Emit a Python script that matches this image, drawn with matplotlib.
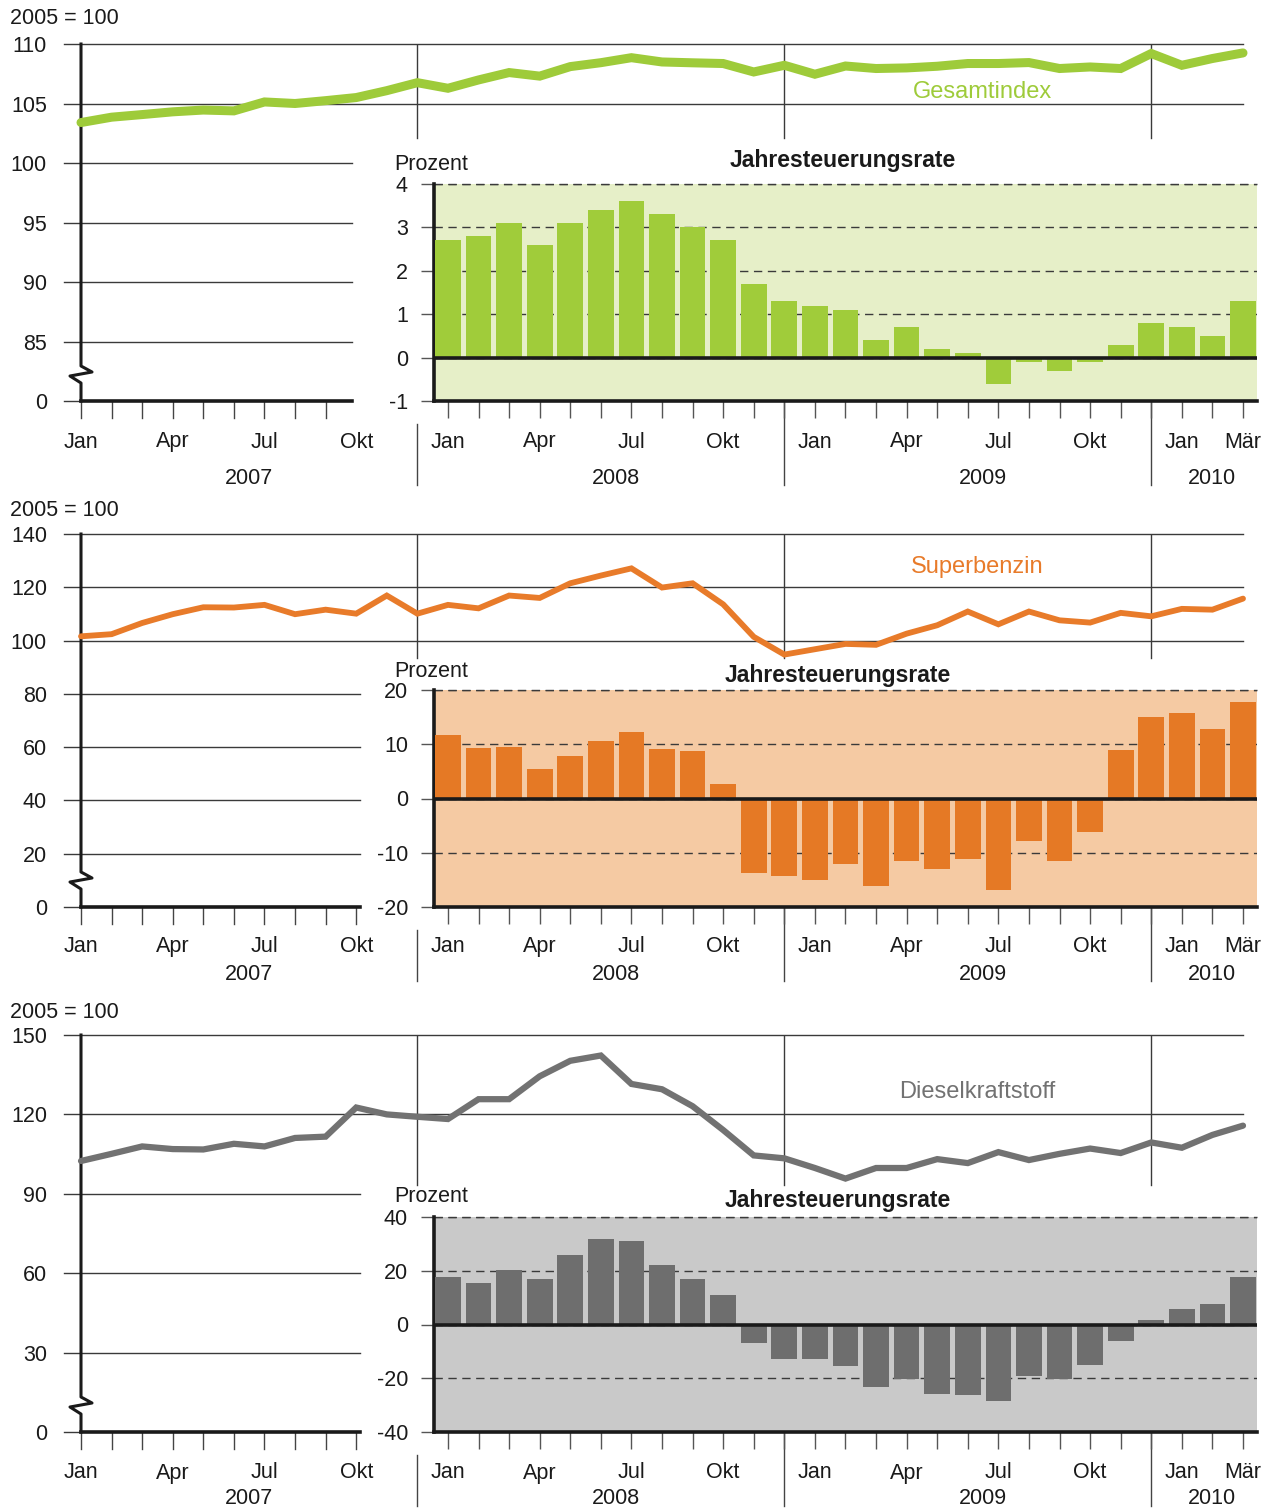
import matplotlib
matplotlib.use('Agg')
import matplotlib.pyplot as plt
import matplotlib.transforms as mtransforms
import numpy as np

plt.rcParams['font.family'] = ['Liberation Sans', 'DejaVu Sans']
plt.rcParams['axes.unicode_minus'] = False

# month index 0 = Jan 2007 ... 38 = Mär 2010
months = np.arange(39)
rate_months = np.arange(12, 39)   # Jan 2008 .. Mär 2010

gesamt_index = [103.4, 103.85, 104.07, 104.3, 104.45, 104.38, 105.13, 105.0, 105.24, 105.5,
                106.08, 106.75, 106.28, 106.98, 107.6, 107.3, 108.1, 108.43, 108.85, 108.49,
                108.42, 108.36, 107.65, 108.21, 107.46, 108.15, 107.94, 107.99, 108.13, 108.36,
                108.36, 108.44, 107.94, 108.07, 107.94, 109.2, 108.21, 108.78, 109.25]
benzin_index = [101.6, 102.4, 106.6, 109.9, 112.5, 112.4, 113.4, 109.9, 111.6, 110.1,
                116.9, 110.1, 113.4, 112.1, 116.9, 116.0, 121.5, 124.4, 127.1, 119.9,
                121.5, 113.6, 101.4, 94.75, 96.75, 98.75, 98.4, 102.6, 105.75, 110.9,
                106.1, 110.9, 107.6, 106.75, 110.4, 109.1, 111.9, 111.6, 115.75]
diesel_index = [102.4, 105.1, 107.9, 106.9, 106.75, 108.9, 107.9, 111.1, 111.6, 122.6,
                120.0, 119.1, 118.25, 125.75, 125.75, 134.4, 140.25, 142.25, 131.5, 129.5,
                123.1, 114.1, 104.5, 103.4, 99.75, 95.75, 99.75, 99.75, 103.1, 101.6,
                105.75, 102.75, 105.1, 107.1, 105.4, 109.4, 107.4, 112.25, 115.75]

gesamt_rate = [2.7, 2.8, 3.1, 2.6, 3.1, 3.4, 3.6, 3.3, 3.0, 2.7, 1.7, 1.3, 1.2, 1.1,
               0.4, 0.7, 0.2, 0.1, -0.6, -0.1, -0.3, -0.1, 0.3, 0.8, 0.7, 0.5, 1.3]
benzin_rate = [11.7, 9.35, 9.5, 5.5, 7.9, 10.6, 12.3, 9.2, 8.8, 2.7, -13.7, -14.3, -15.0, -12.0,
               -16.1, -11.6, -13.0, -11.1, -16.9, -7.8, -11.5, -6.2, 9.0, 15.1, 15.8, 12.9, 17.8]
diesel_rate = [17.5, 15.6, 20.1, 17.1, 26.0, 32.0, 31.2, 22.3, 17.1, 10.8, -6.7, -13.0, -13.0, -15.6,
               -23.4, -20.4, -25.7, -26.4, -28.6, -19.3, -20.4, -14.9, -6.3, 1.5, 5.9, 7.8, 17.5]

line_month_pos = [0, 3, 6, 9]
line_month_labels = ['Jan', 'Apr', 'Jul', 'Okt']
bar_month_pos = [12, 15, 18, 21, 24, 27, 30, 33, 36, 38]
bar_month_labels = ['Jan', 'Apr', 'Jul', 'Okt', 'Jan', 'Apr', 'Jul', 'Okt', 'Jan', 'Mär']
year_pos = [5.5, 17.5, 29.5, 37.0]
year_labels = ['2007', '2008', '2009', '2010']
separators = [11, 23, 35]

W, H = 1270, 1508
X0, DX = 81.0, (1243.0 - 81.0) / 38


def box(x0, y0, x1, y1):
    return [x0 / W, 1 - y1 / H, (x1 - x0) / W, (y1 - y0) / H]


def idx(px):
    return (px - X0) / DX


def fy(px):
    return 1 - px / H


panels = [
    dict(index=gesamt_index, rate=gesamt_rate, name='Gesamtindex',
         line='#9ecb3a', bar='#a0cc3a', bg='#e6efc8', lw=6.5,
         top=44, bottom=401, ylim=(80, 110), yticks=[80, 85, 90, 95, 100, 105, 110],
         ylabels=['0', '85', '90', '95', '100', '105', '110'], full=[105, 110], short_end=352,
         sep_to=102.1, name_xy=(982, 90), unit_y=17,
         in_top=184, in_ylim=(-1, 4), in_ticks=[-1, 0, 1, 2, 3, 4], prozent_y=163, title_xy=(843, 159),
         month_y=440, year_y=476, n_line_ticks=9),
    dict(index=benzin_index, rate=benzin_rate, name='Superbenzin',
         line='#e87b2a', bar='#e57925', bg='#f5caa3', lw=4.2,
         top=534, bottom=907, ylim=(0, 140), yticks=list(range(0, 141, 20)),
         ylabels=[str(v) for v in range(0, 141, 20)], full=[100, 120, 140], short_end=360,
         sep_to=93.4, name_xy=(977, 565), unit_y=508,
         in_top=690, in_ylim=(-20, 20), in_ticks=[-20, -10, 0, 10, 20], prozent_y=669, title_xy=(838, 674),
         month_y=945, year_y=972, n_line_ticks=10),
    dict(index=diesel_index, rate=diesel_rate, name='Dieselkraftstoff',
         line='#727272', bar='#6e6e6e', bg='#c9c9c9', lw=4.5,
         top=1035, bottom=1432, ylim=(0, 150), yticks=list(range(0, 151, 30)),
         ylabels=[str(v) for v in range(0, 151, 30)], full=[120, 150], short_end=360,
         sep_to=93.3, name_xy=(977, 1090), unit_y=1011,
         in_top=1217, in_ylim=(-40, 40), in_ticks=[-40, -20, 0, 20, 40], prozent_y=1195, title_xy=(838, 1199),
         month_y=1471, year_y=1497, n_line_ticks=10),
]

fig = plt.figure(figsize=(W / 100, H / 100), dpi=100)
grid_c = '#3a3a3a'
FS = 15.5
CAP = 7.5   # half cap height in px, to place labels by baseline

for p in panels:
    ax = fig.add_axes(box(X0, p['top'], 1243, p['bottom']))
    ax.set_xlim(0, 38)
    ax.set_ylim(*p['ylim'])
    for s in ax.spines.values():
        s.set_visible(False)
    ax.set_xticks([])
    ax.set_yticks(p['yticks'])
    ax.set_yticklabels(p['ylabels'])
    ax.tick_params(axis='y', length=0, pad=24.5, labelsize=FS, colors='#1a1a1a')
    ax.patch.set_alpha(0)

    x_left = idx(64)
    for v in p['yticks'][1:]:
        x_end = 38 if v in p['full'] else idx(p['short_end'])
        ax.plot([x_left, x_end], [v, v], color=grid_c, lw=1, clip_on=False, zorder=1)
    ax.plot([x_left, 0], [p['ylim'][0]] * 2, color=grid_c, lw=1, clip_on=False)

    for s in separators:
        ax.plot([s, s], [p['sep_to'], p['ylim'][1]], color=grid_c, lw=1, zorder=1)

    # left axis with break mark
    hpx = p['bottom'] - p['top']
    zig = [35, 29, 25, 18]
    zx = idx(X0 + 11)
    tr = mtransforms.blended_transform_factory(ax.transData, ax.transAxes)
    ax.plot([0, 0, zx, -zx, 0, 0], [1, zig[0] / hpx, zig[1] / hpx, zig[2] / hpx, zig[3] / hpx, 0],
            color='#1a1a1a', lw=2.2, transform=tr, clip_on=False, zorder=4)
    ax.plot([0, idx(p['short_end'])], [p['ylim'][0]] * 2, color='#1a1a1a', lw=2.6,
            clip_on=False, zorder=4)

    trf = mtransforms.blended_transform_factory(ax.transData, fig.transFigure)
    for i in range(p['n_line_ticks']):
        ax.plot([i, i], [fy(p['bottom']), fy(p['bottom'] + 17)], color='#444444', lw=1,
                transform=trf, clip_on=False)

    ax.plot(months, p['index'], color=p['line'], lw=p['lw'], solid_capstyle='round',
            solid_joinstyle='miter', clip_on=False, zorder=5)

    fig.text(p['name_xy'][0] / W, fy(p['name_xy'][1] + 8), p['name'], color=p['line'],
             ha='center', va='baseline', fontsize=17)
    fig.text(10 / W, fy(p['unit_y'] + CAP), '2005 = 100', ha='left', va='baseline', fontsize=FS,
             color='#1a1a1a')

    # inset with annual rates
    bx = fig.add_axes(box(434, p['in_top'], 1257, p['bottom']))
    bx.set_facecolor(p['bg'])
    bx.set_xlim(idx(434), idx(1257))
    bx.set_ylim(*p['in_ylim'])
    bx.bar(rate_months, p['rate'], width=0.84, color=p['bar'], zorder=3)
    bx.set_yticks(p['in_ticks'])
    bx.yaxis.grid(True, color=grid_c, lw=1, linestyle=(0, (6, 4)))
    bx.set_axisbelow(True)
    bx.axhline(0, color='#1a1a1a', lw=2.6, zorder=4)
    for k in ['top', 'right']:
        bx.spines[k].set_visible(False)
    for k in ['left', 'bottom']:
        bx.spines[k].set_linewidth(2.6)
        bx.spines[k].set_color('#1a1a1a')
    bx.set_xticks(rate_months)
    bx.set_xticklabels([])
    bx.tick_params(axis='x', length=12, width=1, color='#555555', direction='out')
    bx.tick_params(axis='y', length=9.4, width=1, color='#555555', pad=9.4,
                   labelsize=FS, labelcolor='#1a1a1a')
    bx.plot([idx(434), idx(1257)], [p['in_ylim'][1]] * 2, color=grid_c, lw=1,
            linestyle=(0, (6, 4)), clip_on=False, zorder=2)

    fig.text(394 / W, fy(p['prozent_y'] + CAP), 'Prozent', ha='left', va='baseline', fontsize=FS,
             color='#1a1a1a')
    fig.text(p['title_xy'][0] / W, fy(p['title_xy'][1] + CAP + 0.5), 'Jahresteuerungsrate',
             ha='center', va='baseline', fontsize=16.5, fontweight='bold', color='#1a1a1a')

    # month / year labels
    for pos, lab in zip(line_month_pos + bar_month_pos, line_month_labels + bar_month_labels):
        ax.text(pos, fy(p['month_y'] + CAP), lab, transform=trf, ha='center', va='baseline',
                fontsize=FS, color='#1a1a1a')
    for pos, lab in zip(year_pos, year_labels):
        ax.text(pos, fy(p['year_y'] + CAP), lab, transform=trf, ha='center', va='baseline',
                fontsize=FS, color='#1a1a1a')
    for s in separators:
        y_start = p['bottom'] + 23 if s == 11 else p['bottom']
        ax.plot([s, s], [fy(y_start), fy(p['year_y'] + 9)], color='#444444', lw=1,
                transform=trf, clip_on=False)

fig.savefig('out.png', dpi=100)
